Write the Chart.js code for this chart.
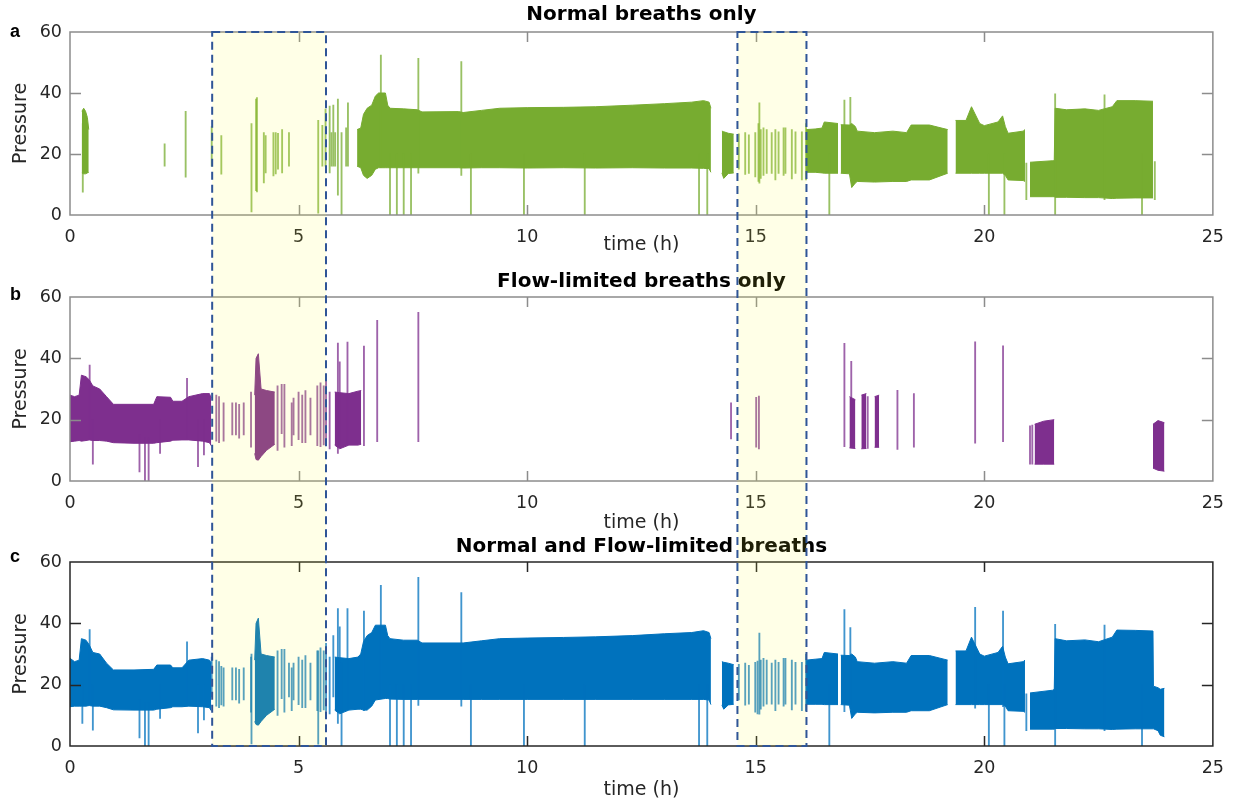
<!DOCTYPE html>
<html>
<head>
<meta charset="utf-8">
<script src="https://cdn.jsdelivr.net/npm/chart.js@4.4.0/dist/chart.umd.min.js"></script>
<style>
  body { margin: 0; background: #fff; width: 1236px; height: 805px; position: relative; overflow: hidden; }
  canvas { position: absolute; left: 0; }
</style>
</head>
<body>
<canvas id="chartA" width="1236" height="262" style="top:0px"></canvas>
<canvas id="chartB" width="1236" height="273" style="top:262px"></canvas>
<canvas id="chartC" width="1236" height="270" style="top:535px"></canvas>
<canvas id="overlay" width="1236" height="805" style="top:0px;pointer-events:none"></canvas>
<script>
// highlighted periods (hours)
var boxStart = [3.11, 14.6];
var boxEnd = [5.6, 16.11];

// a) normal breaths: upper / lower envelope, null = gap
var normT  = [0.26,0.30,0.34,0.38,0.41,null, 6.28,6.36,6.42,6.5,6.6,6.68,6.75,6.9,6.95,7.0,7.3,7.6,7.7,8.5,8.6,9.0,9.4,10.0,10.8,11.5,12.3,13.0,13.6,13.86,13.98,14.02,null, 14.26,14.3,14.4,14.52,null, 16.1,16.3,16.45,16.5,16.8,null, 16.86,17.05,17.1,17.18,17.22,17.6,18.0,18.3,18.4,18.8,19.2,null, 19.37,19.6,19.72,19.9,20.0,20.3,20.4,20.46,20.52,20.85,20.89,null, 21.0,21.5,21.53,21.55,21.8,22.2,22.5,22.8,22.9,23.3,23.69];
var normHi = [34,35,34,32,28,null, 28,28.5,33,35,36,39,40,40,36,35,34.8,34.5,33.8,33.9,33.6,34.3,35,35.2,35.3,35.5,36,36.5,37,37.5,37,35,null, 27.5,27.3,26.8,26.5,null, 28,28.2,28.5,30.5,30,null, 29.6,29.5,30,29,27.5,27,27.5,27,29.5,29.5,28,null, 31,31,35.5,30,29.3,30.5,32.5,29,26.8,27.5,28,null, 17.3,17.8,17.8,35,34.5,34.8,34.3,35.5,37.5,37.5,37.3];
var normLo = [13.8,13.5,13.5,13.8,14,null, 16,15.5,13,12,13,15,15.5,15.5,15.5,15.5,15.5,15.5,15.5,15.5,15.4,15.5,15.5,15.4,15.5,15.4,15.5,15.4,15.4,15.3,15.2,14,null, 13.8,12,13.6,13.8,null, 14,14,13.8,13.7,13.7,null, 13.7,13.5,9,10.5,11,10.8,11,11,11.5,11.5,13.7,null, 13.7,13.7,13.7,13.7,13.7,13.7,13.7,13,11.5,11.3,11,null, 6,6,6,5.8,5.8,5.7,5.7,5.4,5.5,5.6,5.6];
// a) single breaths outside the envelope
var normSpkT  = [0.28,2.07,2.53,3.1,3.31,3.97,4.07,4.09,4.24,4.28,4.45,4.5,4.55,4.64,4.79,5.43,5.52,5.59,5.68,5.72,5.76,5.8,5.86,5.94,6.04,6.08,6.8,7.0,7.15,7.3,7.46,7.62,8.56,8.77,9.93,11.26,13.76,13.94,14.63,14.77,14.85,14.99,15.06,15.08,15.11,15.17,15.24,15.35,15.43,15.5,15.61,15.65,15.79,15.87,16.01,16.1,16.61,16.94,17.07,20.1,20.44,20.92,21.55,22.63,23.45,23.73];
var normSpkHi = [30,23.3,34,29,26,30,38,38.5,27,26,27,27,26.8,28,27,31,29.4,34.7,35.7,27,36,27,38,27,28.6,36.8,52.4,20,20,20,20,51.4,50.3,20,20,20,20,20,26.6,27,26.3,27,30,36.8,28,28.6,28,27,28,27.3,28.6,28.6,28,27.3,27.3,30,20,37.7,38.6,20,20,17,39.7,39.4,20,17.5];
var normSpkLo = [7.5,16,12.4,16,13.4,1,8,7.6,10.5,13.8,12.8,13.5,15,13.8,16,0.6,16,16,13.8,16,16,16,6.5,0,16,16,15.5,0,0,0,0,13.7,13,0,0,0,0,0,15,13.3,13.6,12.5,11,10.4,12,13,13.6,13.6,11.5,13.6,13,13.6,11.8,13.6,11.5,11.5,0,13.7,13.7,0,0,5,0,5,0,5];

// b) flow-limited breaths
var flowT  = [0,0.1,0.2,0.25,0.35,0.42,0.5,0.65,0.8,0.95,1.4,1.83,1.9,2.2,2.25,2.45,2.6,2.9,3.05,3.09,null, 4.04,4.07,4.12,4.18,4.3,4.48,null, 5.79,5.9,6.1,6.3,6.37,null, 17.05,17.18,null, 17.31,17.42,null, 17.6,17.7,null, 21.1,21.3,21.53,null, 23.69,23.8,23.94];
var flowHi = [28,27.5,28,34.5,34,33,31,30,27.5,25,25,25,27.5,27.3,26,26,27.5,28.5,28.5,27,null, 28,40,41.5,30,29.5,29,null, 29,28.8,28.5,29.3,29.5,null, 27.5,26.5,null, 28,28.5,null, 27.5,28,null, 18.5,19.5,20,null, 18.5,19.7,19];
var flowLo = [12.8,13,13.2,13,13.2,13.4,13.2,13.2,13,12.5,12.3,12.3,12.5,13,13.3,13.4,13.4,13,12.5,11.5,null, 9,7,6.8,8,10,12,null, 11.7,10.5,11.7,11.7,12,null, 10.8,10.6,null, 10.5,10.6,null, 11,11,null, 5.5,5.5,5.5,null, 4.2,3.5,3.2];
var flowSpkT  = [0.43,0.5,1.52,1.64,1.72,1.97,2.56,2.8,2.93,3.2,3.26,3.36,3.55,3.63,3.7,3.8,3.96,4.54,4.63,4.69,4.85,4.89,5.0,5.08,5.15,5.26,5.41,5.48,5.55,5.6,5.68,5.86,5.9,6.07,6.43,6.72,7.62,14.46,15.01,15.07,16.94,17.09,17.45,18.1,18.46,19.8,20.41,21.0,21.05];
var flowSpkHi = [37.8,20,15,14,14,20,33.5,20,20,28,27.5,25.5,25.5,25.5,25,25.5,29,31,31.5,31.5,25.5,27,29,28,29.5,27,31,32,31,33.5,29,45,38.9,45.3,44,52.4,55,25.5,27.3,27.7,44.9,39,27.5,29.6,28.5,45.4,44.1,18,18.2];
var flowSpkLo = [14,5.5,3,0,0,9,14,4.7,8.5,13,12.5,13,15,15,14,15,11,10,15.4,11,11.5,15,13.5,12.5,12.5,15,11.5,11.2,11.8,11.5,10.5,9,12,11.7,11.5,12.8,12.8,13.7,11,10.5,11.2,11.2,10.6,10.3,11,12.3,12.8,5.5,5.5];

// c) normal and flow-limited breaths
var bothT  = [0,0.1,0.2,0.25,0.35,0.42,0.5,0.65,0.8,0.95,1.4,1.83,1.9,2.2,2.25,2.45,2.6,2.9,3.05,3.09,null, 4.04,4.07,4.12,4.18,4.3,4.48,null, 5.79,5.9,6.1,6.3,6.36,6.42,6.5,6.6,6.68,6.9,6.95,7.0,7.3,7.6,7.7,8.6,9.0,9.4,10.0,10.8,11.5,12.3,13.0,13.6,13.86,13.98,14.02,null, 14.26,14.3,14.4,14.52,null, 16.1,16.3,16.45,16.5,16.8,null, 16.86,17.05,17.1,17.18,17.22,17.6,18.0,18.3,18.4,18.8,19.2,null, 19.37,19.6,19.72,19.9,20.0,20.3,20.4,20.46,20.52,20.85,20.89,null, 21.0,21.5,21.53,21.55,21.8,22.2,22.5,22.8,22.9,23.3,23.69,23.7,23.8,23.85,23.94];
var bothHi = [28.6,27.5,28,35,34.5,33,30.5,30,27,24.8,24.8,25,26.4,26.4,25.5,25.5,28,28.5,28,27,null, 28,40,41.7,30,29.5,29,null, 29,28.8,28.5,29,30,34,36,37,39.4,39.4,36,35,34.5,34.5,33.6,33.6,34.3,35,35.2,35.4,35.6,36,36.6,37,37.6,37,35,null, 27.5,27.3,27,26.5,null, 28,28.3,28.5,30.5,30,null, 29.6,29.5,30,29,27.5,27,27.5,27,29.5,29.5,28,null, 31,31,35.5,30,29.3,30.5,32.5,29,26.8,27.5,28,null, 17.3,18.2,18.5,35,34.3,34.6,34,35.5,37.8,37.7,37.5,19.5,19,18.5,18.8];
var bothLo = [12.8,13,13,13,13,13.2,13,13,12.5,11.8,11.7,11.7,12,12.5,12.8,12.8,13,12.8,12.5,11.5,null, 8,7,6.8,8,10,12,null, 11.7,10.5,11.7,12,12,11.7,11.7,13,15,15.5,15.5,15.3,15.2,15.2,15.2,15.2,15.2,15.2,15.2,15.2,15.2,15.2,15.2,15.2,15.2,15,13.5,null, 13.4,12,13.4,13.6,null, 13.6,13.6,13.6,13.5,13.5,null, 13.5,13.3,9,10.5,11,10.8,11,11,11.5,11.5,13.5,null, 13.5,13.5,13.5,13.5,13.5,13.5,13.5,13,11.5,11.3,11,null, 5.5,5.5,5.5,5.7,5.7,5.6,5.6,5.4,5.5,5.6,5.6,5.6,5,3.5,3];
var bothSpkT  = [0.27,0.43,0.5,1.52,1.64,1.72,1.97,2.56,2.8,2.93,3.1,3.2,3.26,3.31,3.36,3.55,3.63,3.7,3.8,3.96,3.97,4.54,4.63,4.69,4.79,4.85,4.89,5.0,5.08,5.15,5.26,5.41,5.43,5.48,5.55,5.6,5.68,5.76,5.86,5.9,5.94,6.07,6.43,6.8,7.0,7.15,7.3,7.46,7.62,8.56,8.77,9.93,11.26,13.76,13.94,14.46,14.63,14.77,14.85,14.99,15.04,15.08,15.11,15.17,15.24,15.35,15.43,15.5,15.61,15.65,15.79,15.87,16.01,16.1,16.61,16.94,17.07,19.8,20.1,20.41,20.44,20.92,21.55,22.63,23.45];
var bothSpkHi = [20,38,20,15,14,14,20,34,20,20,29,28,27.5,26,25.5,25.5,25.5,25,25.5,29,30,31,31.5,31.5,27,25.5,27,29,28,29.5,27,31,31,32,31,33.5,29,36,44.8,38.9,27,44.8,44,52.4,20,20,20,20,55,50,20,20,20,20,20,25.5,26.6,27,26.3,27.3,27.7,36.8,28,28.6,28,27,28,27.3,28.6,28.6,28,27.3,27.3,30,20,44.5,38.6,45.2,20,44,20,17,39.7,39.4,20];
var bothSpkLo = [7.4,14,5.2,2.6,0,0,9,14,4.3,8.5,16,13,12.5,13.4,13,15,15,14,15,11,0.7,10,15.4,11,16,11.5,15,13.5,12.5,12.5,15,11.5,0.6,11.2,11.8,11.5,10.5,16,7.4,12,0,11.7,11.5,15.5,0,0,0,0,13.2,13,0,0,0,0,0,13.7,15,13.3,13.6,11,10.5,10.4,12,13,13.6,13.6,11.5,13.6,13,13.6,11.8,13.6,11.5,11.5,0,11.2,13.5,12.3,0,12.8,0,5,0,5,0];

var FONT = '"DejaVu Sans", sans-serif';
var TXT = '#262626';

// one filled band per gap-free stretch
function envelope(t, hi, lo, color) {
  var sets = [], up = [], dn = [];
  function flush() {
    if (up.length) {
      sets.push({ type: 'line', data: up, borderColor: color, backgroundColor: color, borderWidth: 1, pointRadius: 0, tension: 0, fill: '+1' });
      sets.push({ type: 'line', data: dn, borderColor: color, borderWidth: 1, pointRadius: 0, tension: 0, fill: false });
    }
    up = []; dn = [];
  }
  for (var i = 0; i < t.length; i++) {
    if (t[i] === null) { flush(); continue; }
    up.push({ x: t[i], y: hi[i] });
    dn.push({ x: t[i], y: lo[i] });
  }
  flush();
  return sets;
}

function spikes(t, hi, lo, color) {
  return {
    type: 'bar',
    data: t.map(function (v, i) { return { x: v, y: [lo[i], hi[i]] }; }),
    backgroundColor: color, borderWidth: 0, barThickness: 1.2, grouped: false
  };
}

// box, inward ticks and panel letter
var panelBox = {
  id: 'panelBox',
  afterDraw: function (chart, args, opts) {
    var ctx = chart.ctx, a = chart.chartArea, xs = chart.scales.x, ys = chart.scales.y;
    ctx.save();
    ctx.strokeStyle = opts.color;
    ctx.lineWidth = opts.width;
    ctx.strokeRect(a.left, a.top, a.right - a.left, a.bottom - a.top);
    ctx.beginPath();
    xs.ticks.forEach(function (t) {
      if (t.value <= xs.min || t.value >= xs.max) return;
      var p = Math.round(xs.getPixelForValue(t.value)) + 0.5;
      ctx.moveTo(p, a.bottom); ctx.lineTo(p, a.bottom - 10);
      ctx.moveTo(p, a.top); ctx.lineTo(p, a.top + 10);
    });
    ys.ticks.forEach(function (t) {
      if (t.value <= ys.min || t.value >= ys.max) return;
      var p = Math.round(ys.getPixelForValue(t.value)) + 0.5;
      ctx.moveTo(a.left, p); ctx.lineTo(a.left + 11, p);
      ctx.moveTo(a.right, p); ctx.lineTo(a.right - 11, p);
    });
    ctx.stroke();
    ctx.fillStyle = '#000';
    ctx.font = 'bold 18px "Liberation Sans", Arial, sans-serif';
    ctx.fillText(opts.letter, 10, opts.letterY);
    ctx.restore();
  }
};

function makeChart(id, title, titlePad, xTitlePad, xHeight, sets, box) {
  return new Chart(document.getElementById(id), {
    type: 'line',
    data: { datasets: sets },
    options: {
      responsive: false,
      animation: false,
      events: [],
      layout: { padding: { left: 0, right: 21, top: 0, bottom: 0 } },
      plugins: {
        legend: { display: false },
        tooltip: { enabled: false },
        title: { display: true, text: title, fullSize: false, color: '#000', padding: titlePad,
                 font: { family: FONT, size: 20, weight: 'bold' } },
        panelBox: box
      },
      scales: {
        x: {
          type: 'linear', min: 0, max: 25, offset: false,
          grid: { display: false, drawTicks: false }, border: { display: false },
          ticks: { stepSize: 5, padding: 12, color: TXT, font: { family: FONT, size: 17.5 } },
          title: { display: true, text: 'time (h)', color: TXT, font: { family: FONT, size: 19 }, padding: { top: 0, bottom: xTitlePad } },
          afterFit: function (s) { s.height = xHeight; }
        },
        y: {
          min: 0, max: 60,
          grid: { display: false, drawTicks: false }, border: { display: false },
          ticks: { stepSize: 20, padding: 8, color: TXT, font: { family: FONT, size: 17.5 } },
          title: { display: true, text: 'Pressure', color: TXT, font: { family: FONT, size: 19 }, padding: { top: 9.6, bottom: 0 } },
          afterFit: function (s) { s.width = 70; }
        }
      }
    },
    plugins: [panelBox]
  });
}

var green = '#77AC30', purple = '#7E2F8E', blue = '#0072BD';

var chartA = makeChart('chartA', 'Normal breaths only', { top: 3, bottom: 5 }, 5.6, 47,
  [spikes(normSpkT, normSpkHi, normSpkLo, 'rgba(119,172,48,0.75)')].concat(envelope(normT, normHi, normLo, green)),
  { letter: 'a', letterY: 37, color: '#8c8c8c', width: 1.5 });

var chartB = makeChart('chartB', 'Flow-limited breaths only', { top: 8, bottom: 3 }, 1, 54,
  [spikes(flowSpkT, flowSpkHi, flowSpkLo, 'rgba(126,47,142,0.75)')].concat(envelope(flowT, flowHi, flowLo, purple)),
  { letter: 'b', letterY: 38, color: '#8c8c8c', width: 1.5 });

var chartC = makeChart('chartC', 'Normal and Flow-limited breaths', { top: 0, bottom: 3 }, 3.6, 59,
  [spikes(bothSpkT, bothSpkHi, bothSpkLo, 'rgba(0,114,189,0.75)')].concat(envelope(bothT, bothHi, bothLo, blue)),
  { letter: 'c', letterY: 27, color: '#262626', width: 1.5 });

// highlight boxes across all three panels
(function () {
  var ctx = document.getElementById('overlay').getContext('2d');
  var xs = chartA.scales.x;
  var top = chartA.chartArea.top;
  var bottom = 535 + chartC.chartArea.bottom;
  for (var i = 0; i < boxStart.length; i++) {
    var x0 = xs.getPixelForValue(boxStart[i]), x1 = xs.getPixelForValue(boxEnd[i]);
    ctx.fillStyle = 'rgba(255,255,60,0.12)';
    ctx.fillRect(x0, top, x1 - x0, bottom - top);
    ctx.setLineDash([8, 5]);
    ctx.lineWidth = 2;
    ctx.strokeStyle = '#2f5597';
    ctx.strokeRect(x0, top, x1 - x0, bottom - top);
  }
})();
</script>
</body>
</html>
